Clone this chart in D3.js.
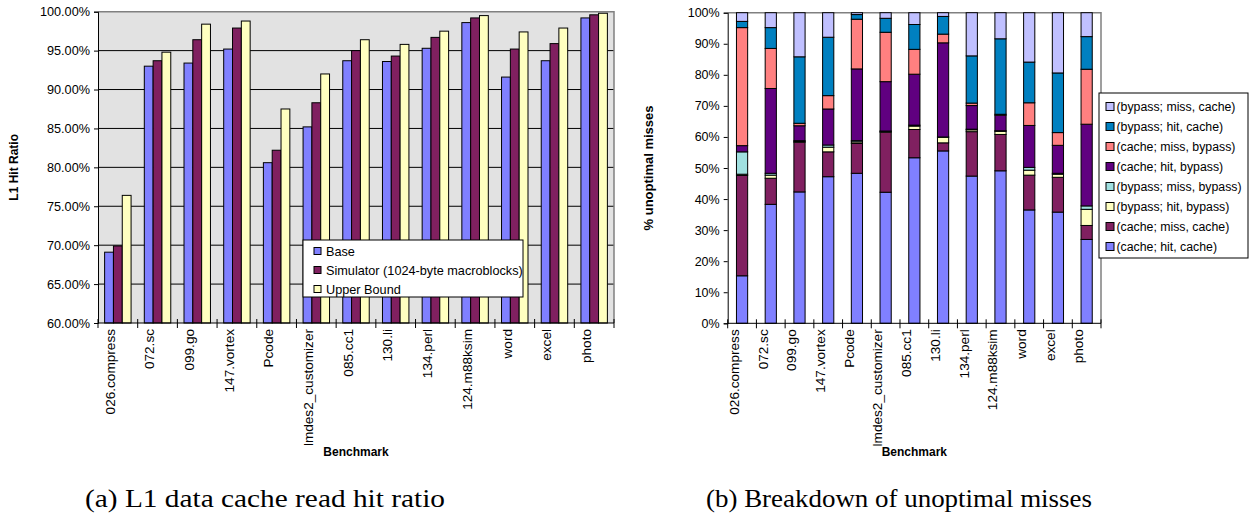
<!DOCTYPE html>
<html>
<head>
<meta charset="utf-8">
<script src="https://cdn.jsdelivr.net/npm/d3@7"></script>
<style>
  html, body { margin: 0; padding: 0; background: #fff; }
  svg { display: block; }
  text { font-family: "Liberation Sans", Arial, sans-serif; fill: #000; }
  .caption { font-family: "Liberation Serif", "DejaVu Serif", serif; }
</style>
</head>
<body>
<svg id="fig" width="1249" height="519"></svg>
<script>
// Benchmarks shared by both panels
const categories = ["026.compress", "072.sc", "099.go", "147.vortex", "Pcode", "lmdes2_customizer",
  "085.cc1", "130.li", "134.perl", "124.m88ksim", "word", "excel", "photo"];

// (a) L1 data cache read hit ratio, in percent
const hitSeries = ["Base", "Simulator (1024-byte macroblocks)", "Upper Bound"];
const hitBase      = [69.1, 93.0, 93.4, 95.2, 80.6, 85.2, 93.7, 93.6, 95.3, 98.6, 91.6, 93.7, 99.2];
const hitSimulator = [69.9, 93.7, 96.4, 97.9, 82.2, 88.3, 95.0, 94.3, 96.7, 99.2, 95.2, 95.9, 99.6];
const hitUpper     = [76.4, 94.8, 98.4, 98.8, 87.5, 92.0, 96.4, 95.8, 97.5, 99.5, 97.4, 97.9, 99.8];
const hitTicks = [60, 65, 70, 75, 80, 85, 90, 95, 100];

// (b) breakdown of unoptimal misses, percent of each benchmark (stack order bottom to top)
const missKeys = ["(cache; hit, cache)", "(cache; miss, cache)", "(bypass; hit, bypass)", "(bypass; miss, bypass)",
  "(cache; hit, bypass)", "(cache; miss, bypass)", "(bypass; hit, cache)", "(bypass; miss, cache)"];
const cacheHitCache    = [15.3, 38.3, 42.3, 47.2, 48.3, 42.2, 53.3, 55.5, 47.4, 49.1, 36.5, 35.8, 27.0];
const cacheMissCache   = [32.3,  8.4, 16.0,  8.0,  9.6, 19.3,  9.1,  2.6, 14.3, 11.7, 11.2, 11.2,  4.5];
const bypassHitBypass  = [ 0.4,  1.0,  0.2,  1.5,  0.5,  0.3,  1.1,  1.8,  0.6,  1.0,  1.6,  1.0,  5.2];
const bypassMissBypass = [ 7.2,  0.6,  0.3,  0.7,  0.4,  0.1,  0.3,  0.1,  0.2,  0.2,  0.9,  0.3,  1.1];
const cacheHitBypass   = [ 2.0, 27.3,  4.8, 11.6, 23.1, 15.9, 16.4, 30.3,  7.6,  5.0, 13.5,  9.0, 26.3];
const cacheMissBypass  = [38.0, 12.9,  0.8,  4.3, 16.0, 15.9,  8.0,  2.8,  0.8,  0.3,  7.3,  4.1, 17.7];
const bypassHitCache   = [ 2.0,  6.7, 21.4, 18.8,  1.5,  4.5,  8.0,  5.7, 15.2, 24.3, 13.1, 19.2, 10.5];
const bypassMissCache  = [ 2.8,  4.8, 14.2,  7.9,  0.6,  1.8,  3.8,  1.2, 13.9,  8.4, 15.9, 19.4,  7.7];
const missTicks = [0, 10, 20, 30, 40, 50, 60, 70, 80, 90, 100];

const hitColors = ["#8080ff", "#802060", "#ffffc0"];
const missColors = ["#8080ff", "#802060", "#ffffc0", "#a0e0e0", "#600080", "#ff8080", "#0080c0", "#c0c0ff"];

const svg = d3.select("#fig");

// ---------- Panel (a): grouped bars ----------
{
  const L = 98, R = 614, T = 11.7, B = 323;
  const g = svg.append("g");
  const x0 = d3.scaleBand().domain(categories).range([L, R]).padding(0);
  const x1 = d3.scaleBand().domain(hitSeries).range([0, x0.bandwidth()]).paddingInner(0).paddingOuter(0.75);
  const y = d3.scaleLinear().domain([60, 100]).range([B, T]);
  const values = [hitBase, hitSimulator, hitUpper];

  g.append("rect").attr("x", L).attr("y", T).attr("width", R - L).attr("height", B - T).attr("fill", "#e2e2e2");
  // gridlines
  g.append("g").selectAll("line").data(hitTicks.filter(t => t > 60 && t < 100)).join("line")
    .attr("x1", L).attr("x2", R).attr("y1", d => y(d)).attr("y2", d => y(d))
    .attr("stroke", "#000").attr("stroke-width", 1);
  // plot border (top and right)
  g.append("path").attr("d", `M${L},${y(100)}H${R}V${B}`).attr("fill", "none").attr("stroke", "#808080").attr("stroke-width", 1.5);

  const groups = g.append("g").selectAll("g").data(categories).join("g")
    .attr("transform", d => `translate(${x0(d)},0)`);
  groups.selectAll("rect").data((c, i) => hitSeries.map((s, k) => ({ s, k, v: values[k][i] }))).join("rect")
    .attr("x", d => x1(d.s)).attr("width", x1.bandwidth())
    .attr("y", d => y(d.v)).attr("height", d => y(60) - y(d.v))
    .attr("fill", d => hitColors[d.k]).attr("stroke", "#000").attr("stroke-width", 1);

  // y axis
  const yAxis = d3.axisLeft(y).tickValues(hitTicks).tickSize(4).tickPadding(4).tickFormat(d => d3.format(".2f")(d) + "%");
  const ya = g.append("g").attr("transform", `translate(${L},0)`).call(yAxis);
  ya.select(".domain").attr("stroke", "#000");
  ya.selectAll(".tick text").attr("font-size", "12.7px").attr("font-family", "Liberation Sans, Arial, sans-serif");

  // x axis with ticks at category boundaries
  g.append("line").attr("x1", L).attr("x2", R).attr("y1", B).attr("y2", B).attr("stroke", "#000");
  g.append("g").selectAll("line").data(categories.map(c => x0(c)).concat([R])).join("line")
    .attr("x1", d => d).attr("x2", d => d).attr("y1", B - 4).attr("y2", B + 5).attr("stroke", "#000");
  g.append("g").selectAll("text").data(categories).join("text")
    .attr("transform", d => `translate(${x0(d) + x0.bandwidth() / 2 - 8},${B + 6}) rotate(-90)`)
    .attr("text-anchor", "end").attr("dy", "0.35em").attr("font-size", "13.6px").text(d => d);

  g.append("text").attr("transform", `translate(18,${(T + B) / 2}) rotate(-90)`)
    .attr("text-anchor", "middle").attr("font-weight", "bold").attr("font-size", "12px").text("L1 Hit Ratio");
  g.append("text").attr("x", (L + R) / 2).attr("y", 456).attr("text-anchor", "middle")
    .attr("font-weight", "bold").attr("font-size", "12px").text("Benchmark");

  // legend
  const lg = g.append("g").attr("transform", "translate(303,240)");
  lg.append("rect").attr("width", 220).attr("height", 57).attr("fill", "#fff").attr("stroke", "#000");
  hitSeries.forEach((s, k) => {
    const row = lg.append("g").attr("transform", `translate(0,${11.5 + k * 19})`);
    row.append("rect").attr("x", 11).attr("y", -4).attr("width", 7).attr("height", 7)
      .attr("fill", hitColors[k]).attr("stroke", "#000");
    row.append("text").attr("x", 23).attr("dy", "0.35em").attr("font-size", "12.7px").text(s);
  });

  svg.append("text").attr("class", "caption").attr("x", 265).attr("y", 507).attr("text-anchor", "middle")
    .attr("font-size", "26px").attr("textLength", 360).attr("lengthAdjust", "spacingAndGlyphs")
    .text("(a) L1 data cache read hit ratio");
}

// ---------- Panel (b): stacked bars ----------
{
  const L = 727.7, R = 1101, T = 12.7, B = 323.3;
  const g = svg.append("g");
  const x = d3.scaleBand().domain(categories).range([L, R]).paddingInner(0.61).paddingOuter(0.305);
  const xc = d3.scaleBand().domain(categories).range([L, R]).padding(0);
  const y = d3.scaleLinear().domain([0, 100]).range([B, T]);
  const cols = [cacheHitCache, cacheMissCache, bypassHitBypass, bypassMissBypass,
    cacheHitBypass, cacheMissBypass, bypassHitCache, bypassMissCache];
  const rows = categories.map((c, i) => {
    const r = { cat: c };
    missKeys.forEach((k, j) => { r[k] = cols[j][i]; });
    return r;
  });
  const stacked = d3.stack().keys(missKeys)(rows);

  g.append("path").attr("d", `M${L},${T}H${R}V${B}`).attr("fill", "none").attr("stroke", "#808080").attr("stroke-width", 1.5);

  g.append("g").selectAll("g").data(stacked).join("g")
    .attr("fill", (d, j) => missColors[j])
    .selectAll("rect").data(d => d).join("rect")
    .attr("x", d => x(d.data.cat)).attr("width", x.bandwidth())
    .attr("y", d => y(d[1])).attr("height", d => y(d[0]) - y(d[1]))
    .attr("stroke", "#000").attr("stroke-width", 1);

  const yAxis = d3.axisLeft(y).tickValues(missTicks).tickSize(4).tickPadding(4).tickFormat(d => d + "%");
  const ya = g.append("g").attr("transform", `translate(${L},0)`).call(yAxis);
  ya.select(".domain").attr("stroke", "#000");
  ya.selectAll(".tick text").attr("font-size", "12.5px").attr("font-family", "Liberation Sans, Arial, sans-serif");

  g.append("line").attr("x1", L).attr("x2", R).attr("y1", B).attr("y2", B).attr("stroke", "#000");
  g.append("g").selectAll("line").data(categories.map(c => xc(c)).concat([R])).join("line")
    .attr("x1", d => d).attr("x2", d => d).attr("y1", B - 4).attr("y2", B + 5).attr("stroke", "#000");
  g.append("g").selectAll("text").data(categories).join("text")
    .attr("transform", d => `translate(${xc(d) + xc.bandwidth() / 2 - 8},${B + 6}) rotate(-90)`)
    .attr("text-anchor", "end").attr("dy", "0.35em").attr("font-size", "13.6px").text(d => d);

  g.append("text").attr("transform", `translate(653,${(T + B) / 2}) rotate(-90)`)
    .attr("text-anchor", "middle").attr("font-weight", "bold").attr("font-size", "13px").text("% unoptimal misses");
  g.append("text").attr("x", (L + R) / 2).attr("y", 456).attr("text-anchor", "middle")
    .attr("font-weight", "bold").attr("font-size", "12px").text("Benchmark");

  // legend, top entry is the top of the stack
  const lg = g.append("g").attr("transform", "translate(1099,93)");
  lg.append("rect").attr("width", 149).attr("height", 165).attr("fill", "#fff").attr("stroke", "#000");
  missKeys.slice().reverse().forEach((k, i) => {
    const j = missKeys.indexOf(k);
    const row = lg.append("g").attr("transform", `translate(0,${13.5 + i * 20})`);
    row.append("rect").attr("x", 7).attr("y", -4).attr("width", 8).attr("height", 8)
      .attr("fill", missColors[j]).attr("stroke", "#000");
    row.append("text").attr("x", 17.5).attr("dy", "0.35em").attr("font-size", "12.3px").text(k);
  });

  svg.append("text").attr("class", "caption").attr("x", 899).attr("y", 507).attr("text-anchor", "middle")
    .attr("font-size", "26px").attr("textLength", 386).attr("lengthAdjust", "spacingAndGlyphs")
    .text("(b) Breakdown of unoptimal misses");
}
</script>
</body>
</html>
